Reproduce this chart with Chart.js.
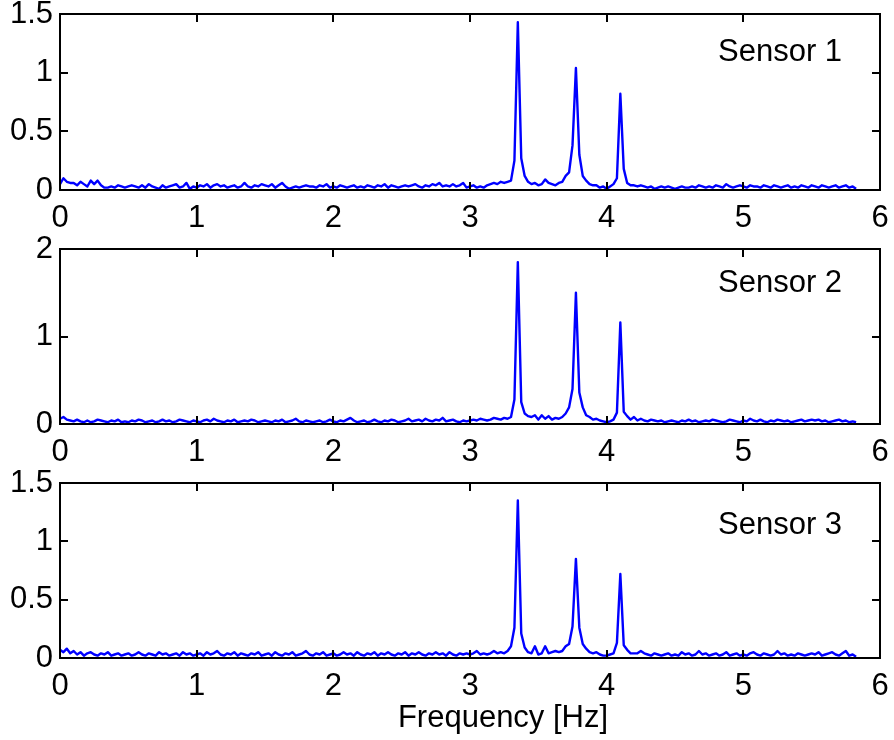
<!DOCTYPE html>
<html>
<head>
<meta charset="utf-8">
<script src="https://cdn.jsdelivr.net/npm/chart.js@4.4.0/dist/chart.umd.min.js"></script>
<style>
  body { margin: 0; background: #fff; }
  #wrap { position: relative; width: 894px; height: 740px; overflow: hidden; }
  #wrap canvas { position: absolute; left: 0; }
</style>
</head>
<body>
<div id="wrap">
  <canvas id="c1"></canvas>
  <canvas id="c2"></canvas>
  <canvas id="c3"></canvas>
</div>
<script>
// ---- data (spectrum amplitude, one value every FREQ_STEP Hz starting at 0) ----
const FREQ_STEP = 0.025;

const sensor1 = [
  .05,.10,.07,.06,.06,.04,.07,.05,.03,.08,.05,.08,.04,.02,.02,.03,.02,.04,.03,.02,
  .03,.04,.03,.02,.04,.02,.05,.03,.02,.01,.04,.02,.03,.04,.05,.02,.03,.06,.01,.03,
  .02,.04,.03,.05,.02,.04,.05,.03,.04,.02,.03,.04,.02,.03,.06,.03,.02,.04,.03,.05,
  .04,.03,.05,.02,.04,.06,.03,.01,.02,.03,.02,.03,.04,.03,.03,.02,.04,.03,.05,.02,
  .03,.02,.04,.03,.02,.03,.04,.02,.03,.02,.04,.03,.02,.04,.03,.05,.02,.04,.03,.02,
  .03,.04,.03,.04,.05,.03,.02,.04,.03,.05,.04,.06,.03,.04,.03,.05,.03,.04,.06,.02,
  .03,.04,.02,.03,.02,.04,.05,.06,.05,.07,.06,.07,.08,.25,1.43,.27,.12,.07,.05,.06,
  .04,.05,.09,.06,.05,.04,.06,.07,.12,.15,.38,1.04,.30,.12,.08,.05,.04,.04,.02,.03,
  .01,.03,.05,.10,.82,.18,.06,.04,.04,.03,.04,.03,.02,.03,.01,.02,.03,.02,.03,.02,
  .01,.02,.03,.02,.02,.03,.02,.04,.03,.02,.03,.02,.04,.03,.02,.05,.03,.02,.03,.04,
  .03,.02,.04,.03,.03,.02,.04,.03,.02,.04,.03,.02,.03,.04,.02,.03,.02,.04,.03,.02,
  .04,.03,.02,.04,.03,.02,.03,.04,.02,.03,.04,.02,.03,.01
];

const sensor2 = [
  .06,.08,.05,.04,.03,.05,.03,.02,.04,.02,.03,.05,.04,.03,.02,.04,.03,.05,.02,.03,
  .02,.04,.03,.05,.04,.02,.03,.04,.02,.03,.05,.03,.04,.02,.03,.05,.04,.03,.02,.04,
  .03,.02,.04,.05,.03,.06,.04,.03,.02,.04,.03,.05,.02,.03,.04,.03,.05,.04,.02,.03,
  .04,.03,.02,.04,.03,.05,.02,.03,.04,.06,.03,.02,.04,.03,.02,.03,.04,.02,.03,.05,
  .03,.02,.04,.03,.05,.07,.04,.02,.03,.04,.02,.03,.05,.03,.02,.04,.03,.05,.04,.02,
  .03,.04,.06,.03,.04,.05,.03,.06,.04,.03,.05,.04,.07,.03,.04,.05,.03,.02,.04,.03,
  .04,.05,.04,.06,.05,.04,.05,.07,.06,.05,.07,.06,.08,.28,1.85,.25,.12,.09,.08,.10,
  .05,.10,.06,.09,.05,.07,.06,.08,.12,.19,.40,1.50,.36,.19,.10,.08,.05,.06,.04,.03,
  .02,.03,.05,.13,1.16,.14,.09,.05,.08,.04,.06,.04,.03,.05,.04,.03,.04,.02,.03,.04,
  .03,.02,.04,.03,.05,.03,.04,.02,.03,.04,.03,.05,.04,.03,.02,.03,.05,.04,.03,.02,
  .04,.03,.06,.04,.03,.05,.03,.02,.04,.03,.05,.04,.03,.04,.02,.03,.04,.05,.03,.04,
  .05,.04,.05,.03,.04,.02,.03,.04,.05,.03,.04,.02,.03,.02
];

const sensor3 = [
  .07,.05,.08,.04,.06,.03,.05,.02,.04,.05,.03,.02,.04,.03,.05,.02,.03,.04,.02,.03,
  .04,.02,.03,.05,.03,.02,.04,.03,.02,.05,.03,.04,.02,.03,.04,.02,.05,.03,.04,.02,
  .03,.04,.02,.05,.03,.04,.06,.03,.02,.04,.03,.05,.02,.04,.03,.02,.04,.03,.05,.02,
  .03,.04,.02,.05,.03,.02,.04,.03,.05,.02,.03,.04,.06,.03,.02,.04,.03,.05,.02,.03,
  .04,.02,.03,.05,.03,.04,.02,.05,.03,.02,.04,.03,.05,.02,.04,.03,.05,.03,.02,.04,
  .03,.05,.02,.04,.03,.05,.03,.02,.04,.03,.05,.03,.04,.02,.05,.03,.02,.04,.03,.04,
  .03,.04,.06,.03,.04,.03,.04,.06,.04,.05,.04,.06,.10,.26,1.35,.21,.09,.05,.04,.10,
  .03,.04,.10,.04,.05,.06,.05,.06,.10,.12,.27,.85,.26,.12,.08,.05,.04,.05,.03,.02,
  .02,.03,.04,.13,.72,.11,.07,.04,.04,.04,.06,.04,.03,.02,.04,.03,.02,.03,.04,.02,
  .03,.02,.05,.03,.04,.02,.03,.06,.03,.04,.02,.03,.04,.02,.03,.05,.02,.03,.04,.02,
  .03,.02,.04,.05,.03,.02,.04,.03,.02,.03,.06,.03,.04,.02,.03,.02,.04,.03,.02,.03,
  .04,.03,.05,.02,.03,.04,.05,.03,.02,.04,.06,.02,.03,.01
];

const sensorNames = ["Sensor 1", "Sensor 2", "Sensor 3"];
const xTicks = [0, 1, 2, 3, 4, 5, 6];
const yTicksA = [0, 0.5, 1, 1.5];
const yTicksB = [0, 1, 2];
const xTitle = "Frequency [Hz]";

const freq = sensor1.map((_, i) => +(i * FREQ_STEP).toFixed(3));

// ---- drawing ----
const FONT = '"Liberation Sans", Arial, Helvetica, sans-serif';
const FONT_SIZE = 31;

Chart.defaults.font.family = FONT;
Chart.defaults.font.size = FONT_SIZE;
Chart.defaults.color = "#000";

// MATLAB-like box with inward ticks, plus the in-axes label
const matlabAxes = {
  id: "matlabAxes",
  afterDatasetsDraw(chart, args, opts) {
    const { ctx, chartArea: a, scales: { x, y } } = chart;
    ctx.save();
    ctx.strokeStyle = "#000";
    ctx.lineWidth = 2;
    ctx.beginPath();
    x.ticks.forEach(t => {
      const px = Math.round(x.getPixelForValue(t.value));
      ctx.moveTo(px, a.bottom); ctx.lineTo(px, a.bottom - 8);
      ctx.moveTo(px, a.top); ctx.lineTo(px, a.top + 8);
    });
    y.ticks.forEach(t => {
      const py = Math.round(y.getPixelForValue(t.value));
      ctx.moveTo(a.left, py); ctx.lineTo(a.left + 8, py);
      ctx.moveTo(a.right, py); ctx.lineTo(a.right - 8, py);
    });
    ctx.stroke();
    ctx.strokeRect(a.left, a.top, a.right - a.left, a.bottom - a.top);

    ctx.fillStyle = "#000";
    ctx.font = FONT_SIZE + "px " + FONT;
    ctx.textBaseline = "alphabetic";
    ctx.textAlign = "left";
    ctx.fillText(opts.name, opts.nameX, a.top + opts.nameDy);
    if (opts.title) {
      ctx.textAlign = "center";
      ctx.fillText(opts.title, opts.titleX, a.bottom + opts.titleDy);
    }
    ctx.restore();
  }
};

const panels = [
  { id: "c1", top: 0,   plotH: 176, xAxisH: 50, values: sensor1, yMax: 1.5, yTicks: yTicksA, nameDy: 47 },
  { id: "c2", top: 235, plotH: 175, xAxisH: 50, values: sensor2, yMax: 2,   yTicks: yTicksB, nameDy: 43 },
  { id: "c3", top: 469, plotH: 175, xAxisH: 82, values: sensor3, yMax: 1.5, yTicks: yTicksA, nameDy: 51, title: xTitle }
];

panels.forEach((p, k) => {
  const canvas = document.getElementById(p.id);
  const h = 14 + p.plotH + p.xAxisH;
  canvas.width = 894;
  canvas.height = h;
  canvas.style.top = p.top + "px";
  canvas.style.width = "894px";
  canvas.style.height = h + "px";

  new Chart(canvas.getContext("2d"), {
    type: "line",
    data: {
      datasets: [{
        data: freq.map((f, i) => ({ x: f, y: p.values[i] })),
        borderColor: "#0000ff",
        borderWidth: 2.4,
        borderJoinStyle: "round",
        pointRadius: 0,
        tension: 0,
        fill: false
      }]
    },
    options: {
      responsive: false,
      animation: false,
      devicePixelRatio: 1,
      layout: { padding: { top: 14, right: 14, left: 0, bottom: 0 } },
      plugins: {
        legend: { display: false },
        tooltip: { enabled: false },
        matlabAxes: {
          name: sensorNames[k], nameX: 718, nameDy: p.nameDy,
          title: p.title, titleX: 503, titleDy: 69
        }
      },
      scales: {
        x: {
          type: "linear",
          min: 0, max: 6,
          afterBuildTicks: s => { s.ticks = xTicks.map(v => ({ value: v })); },
          afterFit: s => { s.height = p.xAxisH; s.paddingLeft = 0; s.paddingRight = 0; },
          ticks: { padding: 10, callback: v => String(v) },
          grid: { display: false, drawTicks: false },
          border: { display: false }
        },
        y: {
          min: 0, max: p.yMax,
          afterBuildTicks: s => { s.ticks = p.yTicks.map(v => ({ value: v })); },
          afterFit: s => { s.width = 60; s.paddingTop = 0; s.paddingBottom = 0; },
          ticks: { padding: 7, callback: v => String(v) },
          grid: { display: false, drawTicks: false },
          border: { display: false }
        }
      }
    },
    plugins: [matlabAxes]
  });
});
</script>
</body>
</html>
